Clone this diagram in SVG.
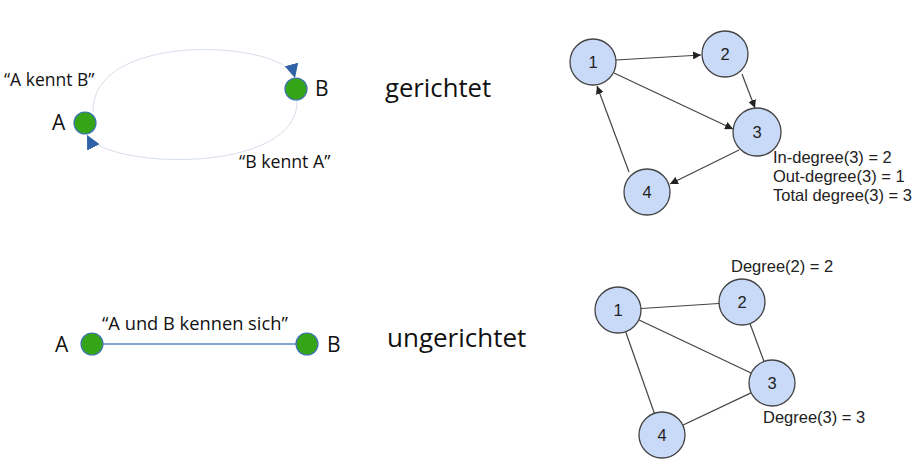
<svg xmlns="http://www.w3.org/2000/svg" width="912" height="471" viewBox="0 0 912 471">
<style>
.lbl{font-family:"Open Sans","Liberation Sans",sans-serif;fill:#111}
.g{fill:#35a416;stroke:#3f73b3;stroke-width:1.2}
.n{fill:#c9daf8;stroke:#444;stroke-width:1.3}
.nt{font-family:"Liberation Sans",Arial,sans-serif;font-size:16.5px;fill:#222;text-anchor:middle}
.at{font-family:"Liberation Sans",Arial,sans-serif;font-size:16.5px;fill:#222}
.e{stroke:#444;stroke-width:1.2;fill:none}
</style>
<defs>
<marker id="ah" viewBox="0 0 10 10" refX="10" refY="5" markerWidth="8" markerHeight="8" markerUnits="userSpaceOnUse" orient="auto">
<path d="M0,0 L10,5 L0,10 z" fill="#222"/>
</marker>
<marker id="bh" viewBox="0 0 10 10" refX="10" refY="5" markerWidth="14" markerHeight="14" markerUnits="userSpaceOnUse" orient="auto">
<path d="M0,0 L10,5 L0,10 z" fill="#2f62a6"/>
</marker>
</defs>
<rect width="912" height="471" fill="#fff"/>
<g id="connectors">
<path d="M93,112 C91,30 285,40 295,78" fill="none" stroke="#d5dfea" stroke-width="1" marker-end="url(#bh)"/>
<path d="M297,100 C300,175 105,170 87,135" fill="none" stroke="#d5dfea" stroke-width="1" marker-end="url(#bh)"/>
<line x1="92" y1="344" x2="307" y2="344" stroke="#5b86c4" stroke-width="1.3"/>
<line class="e" x1="616" y1="60" x2="701" y2="55" marker-end="url(#ah)"/>
<line class="e" x1="742" y1="74" x2="755" y2="108" marker-end="url(#ah)"/>
<line class="e" x1="614" y1="73" x2="733" y2="129" marker-end="url(#ah)"/>
<line class="e" x1="739" y1="150" x2="670" y2="184" marker-end="url(#ah)"/>
<line class="e" x1="629" y1="172" x2="597" y2="86" marker-end="url(#ah)"/>
<line class="e" x1="618" y1="310" x2="742" y2="302"/>
<line class="e" x1="742" y1="302" x2="772" y2="383"/>
<line class="e" x1="618" y1="310" x2="772" y2="383"/>
<line class="e" x1="618" y1="310" x2="662" y2="435"/>
<line class="e" x1="772" y1="383" x2="662" y2="435"/>
</g>
<g id="dirA"><circle class="g" cx="85" cy="123" r="11"/><text class="lbl" x="52" y="130" font-size="21">A</text></g>
<g id="dirB"><circle class="g" cx="296" cy="89" r="11"/><text class="lbl" x="315" y="96" font-size="21">B</text></g>
<text class="lbl" x="4" y="86" font-size="17.5">“A kennt B”</text>
<text class="lbl" x="239" y="168" font-size="17.7">“B kennt A”</text>
<text class="lbl" x="385" y="97" font-size="25.7">gerichtet</text>
<g id="undA"><circle class="g" cx="92" cy="344" r="11"/><text class="lbl" x="55" y="352" font-size="21">A</text></g>
<g id="undB"><circle class="g" cx="307" cy="344" r="11"/><text class="lbl" x="327" y="352" font-size="21">B</text></g>
<text class="lbl" x="102" y="330" font-size="18.3">“A und B kennen sich”</text>
<text class="lbl" x="387" y="347" font-size="26">ungerichtet</text>
<g id="d1"><circle class="n" cx="593" cy="62" r="23"/><text class="nt" x="593" y="68">1</text></g>
<g id="d2"><circle class="n" cx="725" cy="54" r="23"/><text class="nt" x="725" y="60">2</text></g>
<g id="d3"><circle class="n" cx="757" cy="132" r="24"/><text class="nt" x="757" y="138">3</text></g>
<g id="d4"><circle class="n" cx="647" cy="192" r="23"/><text class="nt" x="647" y="198">4</text></g>
<text class="at" x="773" y="163">In-degree(3) = 2</text>
<text class="at" x="773" y="182">Out-degree(3) = 1</text>
<text class="at" x="773" y="201">Total degree(3) = 3</text>
<g id="u1"><circle class="n" cx="618" cy="310" r="23"/><text class="nt" x="618" y="316">1</text></g>
<g id="u2"><circle class="n" cx="742" cy="302" r="23"/><text class="nt" x="742" y="308">2</text></g>
<g id="u3"><circle class="n" cx="772" cy="383" r="23"/><text class="nt" x="772" y="389">3</text></g>
<g id="u4"><circle class="n" cx="662" cy="435" r="23"/><text class="nt" x="662" y="441">4</text></g>
<text class="at" x="731" y="272">Degree(2) = 2</text>
<text class="at" x="763" y="423">Degree(3) = 3</text>
</svg>
